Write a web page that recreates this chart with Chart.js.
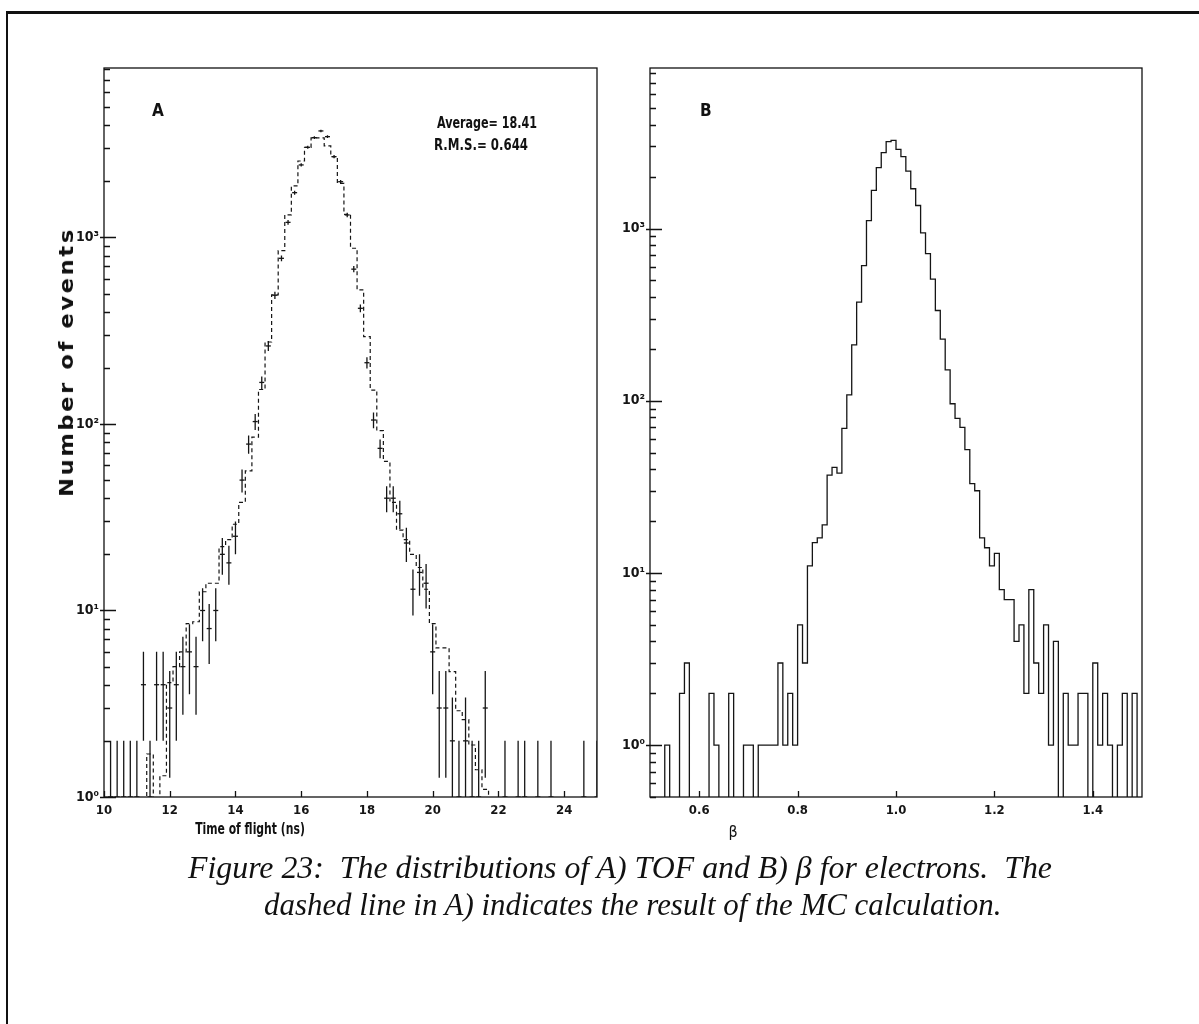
<!DOCTYPE html>
<html>
<head>
<meta charset="utf-8">
<script src="https://cdn.jsdelivr.net/npm/chart.js@4.4.0/dist/chart.umd.min.js"></script>
<style>
    html, body { margin: 0; padding: 0; background: #fff; }
    body { width: 1199px; height: 1024px; position: relative; overflow: hidden; }
    .frame { position: absolute; left: 6px; top: 11px; width: 1210px; height: 1030px;
             border-top: 3px solid #111; border-left: 2px solid #111; }
    canvas { position: absolute; top: 0; }
    #tofChart { left: 0; }
    #betaChart { left: 600px; }
    .lbl { position: absolute; color: #111; white-space: pre; font-weight: bold;
           font-family: 'Liberation Sans Narrow', 'DejaVu Sans Condensed', 'DejaVu Sans', sans-serif; }
    .fit { transform-origin: 0 50%; }
    .mid { transform-origin: 50% 50%; }
    .caption { position: absolute; color: #111; white-space: pre; font-style: italic; font-size: 31px;
               font-family: 'Liberation Serif', 'DejaVu Serif', serif; transform-origin: 0 50%; }
</style>
</head>
<body>
<div class="frame"></div>
<canvas id="tofChart" width="620" height="860"></canvas>
<canvas id="betaChart" width="599" height="860"></canvas>

<div class="lbl" style="left:152px; top:100px; font-size:17px;">A</div>
<div class="lbl fit" data-fit="100" style="left:437px; top:113px; font-size:16px;">Average= 18.41</div>
<div class="lbl fit" data-fit="94" style="left:434px; top:135px; font-size:16px;">R.M.S.= 0.644</div>
<div class="lbl" style="left:700px; top:100px; font-size:17px;">B</div>
<div class="lbl mid" data-fit="269" data-rot="1" style="left:66px; top:362px; font-size:19px; letter-spacing:2px;">Number of events</div>
<div class="lbl mid" data-fit="110" style="left:250px; top:829px; font-size:15px;">Time of flight (ns)</div>
<div class="lbl mid" style="left:733px; top:831px; font-size:16px; font-weight:normal; transform: translate(-50%, -50%);">β</div>

<div class="caption" data-fit="864" style="left:188px; top:850px;">Figure 23:  The distributions of A) TOF and B) β for electrons.  The</div>
<div class="caption" data-fit="738" style="left:264px; top:887px;">dashed line in A) indicates the result of the MC calculation.</div>

<script>
// Colours / fonts
const colors = {
    ink: '#151515',
    frame: '#111111'
};
const tickFont = {
    family: "'Liberation Sans Narrow', 'DejaVu Sans Condensed', 'DejaVu Sans', sans-serif",
    size: 13,
    weight: 'bold'
};

// Panel A : time of flight, bins of 0.2 ns centred on 10.0, 10.2 ... 25.0
const tofFirstCentre = 10.0;
const tofBinWidth = 0.2;
const tofCounts = [
    0, 1, 1, 1, 1, 1, 4, 1, 4, 4,
    3, 4, 5, 6, 5, 10, 8, 10, 20, 18,
    25, 50, 78, 103, 167, 262, 490, 773, 1205, 1738,
    2448, 3043, 3428, 3724, 3470, 2712, 1990, 1320, 676, 417,
    213, 105, 74, 40, 40, 33, 23, 13, 16, 14,
    6, 3, 3, 2, 1, 2, 1, 1, 3, 0,
    0, 1, 0, 1, 1, 0, 1, 0, 1, 0,
    0, 0, 0, 1, 0, 1
];
// MC calculation (dashed line), same bins
const tofMC = [
    0, 0, 0, 0, 0, 0, 0, 1.7, 0, 1.3,
    4.1, 5, 6, 8.5, 8.7, 12.6, 14, 14, 22, 24,
    29, 38, 56, 85, 153, 275, 492, 849, 1321, 1889,
    2570, 3043, 3420, 3420, 3094, 2712, 1950, 1331, 875, 523,
    294, 152, 92, 63, 38, 27, 24, 20, 17, 13,
    8.5, 6.3, 6.3, 4.7, 2.9, 2.6, 1.9, 1.4, 1.1, 0,
    0, 0, 0, 0, 0, 0, 0, 0, 0, 0,
    0, 0, 0, 0, 0, 0
];
const tofTicks = [10, 12, 14, 16, 18, 20, 22, 24];

// Panel B : beta, bins of 0.01 from 0.50 to 1.50
const betaFirstEdge = 0.5;
const betaBinWidth = 0.01;
const betaCounts = [
    0, 0, 0, 1, 0, 0, 2, 3, 0, 0,
    0, 0, 2, 1, 0, 0, 2, 0, 0, 1,
    1, 0, 1, 1, 1, 1, 3, 1, 2, 1,
    5, 3, 11, 15, 16, 19, 37, 41, 38, 69,
    108, 211, 374, 608, 1112, 1663, 2255, 2755, 3193, 3250,
    2880, 2612, 2153, 1702, 1360, 942, 714, 508, 334, 228,
    151, 96, 79, 70, 52, 33, 30, 16, 14, 11,
    13, 8, 7, 7, 4, 5, 2, 8, 3, 2,
    5, 1, 4, 0, 2, 1, 1, 2, 2, 0,
    3, 1, 2, 1, 0, 1, 2, 0, 2, 0
];
const betaTicks = [0.6, 0.8, 1.0, 1.2, 1.4];

// Log axes
const decadeValues = [1, 10, 100, 1000];
const decadeLabels = ['10⁰', '10¹', '10²', '10³'];

const FLOOR = 0.01; // empty bins drop below the axis and get clipped

/**
 * Step outline: one point per left edge, plus the closing right edge
 */
function histogramPoints(firstEdge, width, counts) {
    const pts = counts.map((v, i) => ({ x: firstEdge + i * width, y: v > 0 ? v : FLOOR }));
    pts.push({ x: firstEdge + counts.length * width, y: pts[pts.length - 1].y });
    return pts;
}

/**
 * Vertical error bars sqrt(N), separated by null gaps
 */
function errorBarPoints(firstCentre, width, counts) {
    const pts = [];
    counts.forEach((v, i) => {
        if (v <= 0) return;
        const x = firstCentre + i * width;
        const e = Math.sqrt(v);
        pts.push({ x: x, y: v - e > 0 ? v - e : FLOOR }, { x: x, y: v + e }, { x: x, y: null });
    });
    return pts;
}

function markerPoints(firstCentre, width, counts) {
    return counts
        .map((v, i) => ({ x: firstCentre + i * width, y: v }))
        .filter(p => p.y > 0);
}

function logTickValues(min, max) {
    const vals = [];
    [0.1, 1, 10, 100, 1000].forEach(d => {
        for (let m = 1; m <= 9; m++) {
            const v = +(m * d).toPrecision(6);
            if (v >= min && v <= max) vals.push(v);
        }
    });
    return vals;
}

// Frame + inward tick marks, HIGZ style
const inwardTicks = {
    id: 'inwardTicks',
    afterDraw(chart) {
        const { ctx, chartArea: a, scales } = chart;
        ctx.save();
        ctx.strokeStyle = colors.frame;
        ctx.lineWidth = 1.3;
        ctx.strokeRect(a.left, a.top, a.right - a.left, a.bottom - a.top);
        ctx.beginPath();
        scales.y.ticks.forEach(t => {
            const py = Math.round(scales.y.getPixelForValue(t.value)) + 0.5;
            const major = decadeValues.includes(t.value);
            ctx.moveTo(a.left - (major ? 4 : 0), py);
            ctx.lineTo(a.left + (major ? 12 : 6), py);
        });
        scales.x.ticks.forEach(t => {
            const px = Math.round(scales.x.getPixelForValue(t.value)) + 0.5;
            ctx.moveTo(px, a.bottom);
            ctx.lineTo(px, a.bottom - 6);
        });
        ctx.stroke();
        ctx.restore();
    }
};

function baseOptions(cfg) {
    return {
        responsive: false,
        devicePixelRatio: 1,
        animation: false,
        events: [],
        layout: { padding: cfg.padding },
        plugins: { legend: { display: false }, tooltip: { enabled: false } },
        scales: {
            x: {
                type: 'linear',
                min: cfg.xMin,
                max: cfg.xMax,
                grid: { display: false, drawTicks: false },
                border: { display: false },
                afterBuildTicks: axis => { axis.ticks = cfg.xTicks.map(v => ({ value: v })); },
                afterFit: axis => { axis.height = 40; },
                ticks: {
                    autoSkip: false,
                    maxRotation: 0,
                    padding: 6,
                    color: colors.ink,
                    font: tickFont,
                    callback: cfg.xLabel
                }
            },
            y: {
                type: 'logarithmic',
                min: cfg.yMin,
                max: cfg.yMax,
                grid: { display: false, drawTicks: false },
                border: { display: false },
                afterBuildTicks: axis => {
                    axis.ticks = logTickValues(cfg.yMin, cfg.yMax).map(v => ({ value: v }));
                },
                afterFit: axis => { axis.width = cfg.yWidth; },
                ticks: {
                    autoSkip: false,
                    padding: 5,
                    color: colors.ink,
                    font: { family: tickFont.family, size: 14, weight: 'bold' },
                    callback: function(value) {
                        const k = decadeValues.indexOf(value);
                        return k >= 0 ? decadeLabels[k] : '';
                    }
                }
            }
        }
    };
}

/**
 * Panel A : TOF data (error bars) + MC (dashed)
 */
function initTofChart() {
    const ctx = document.getElementById('tofChart');
    new Chart(ctx, {
        type: 'line',
        data: {
            datasets: [
                {
                    label: 'MC',
                    data: histogramPoints(tofFirstCentre - tofBinWidth / 2, tofBinWidth, tofMC),
                    borderColor: colors.ink,
                    borderWidth: 1.2,
                    borderDash: [4, 3],
                    stepped: 'before',
                    pointRadius: 0,
                    tension: 0
                },
                {
                    label: 'errors',
                    data: errorBarPoints(tofFirstCentre, tofBinWidth, tofCounts),
                    borderColor: colors.ink,
                    borderWidth: 1.3,
                    pointRadius: 0,
                    spanGaps: false
                },
                {
                    label: 'data',
                    type: 'scatter',
                    data: markerPoints(tofFirstCentre, tofBinWidth, tofCounts),
                    pointStyle: 'line',
                    pointRadius: 2.5,
                    borderColor: colors.ink,
                    borderWidth: 1.3,
                    showLine: false
                }
            ]
        },
        options: baseOptions({
            padding: { left: 0, top: 68, right: 23, bottom: 23 },
            xMin: 10, xMax: 25, xTicks: tofTicks,
            xLabel: v => String(v),
            yMin: 1, yMax: 8100, yWidth: 104
        }),
        plugins: [inwardTicks]
    });
}

/**
 * Panel B : beta histogram
 */
function initBetaChart() {
    const ctx = document.getElementById('betaChart');
    new Chart(ctx, {
        type: 'line',
        data: {
            datasets: [{
                label: 'beta',
                data: histogramPoints(betaFirstEdge, betaBinWidth, betaCounts),
                borderColor: colors.ink,
                borderWidth: 1.3,
                stepped: 'before',
                pointRadius: 0,
                tension: 0
            }]
        },
        options: baseOptions({
            padding: { left: 0, top: 68, right: 57, bottom: 23 },
            xMin: 0.5, xMax: 1.5, xTicks: betaTicks,
            xLabel: v => v.toFixed(1),
            yMin: 0.5, yMax: 8550, yWidth: 50
        }),
        plugins: [inwardTicks]
    });
}

// Stretch/squeeze labels to the widths measured on the original figure
function fitLabels() {
    document.querySelectorAll('[data-fit]').forEach(el => {
        const k = (+el.dataset.fit / el.offsetWidth).toFixed(3);
        if (el.classList.contains('mid')) {
            const rot = el.dataset.rot ? ' rotate(-90deg)' : '';
            el.style.transform = `translate(-50%, -50%)${rot} scaleX(${k})`;
        } else {
            el.style.transform = `scaleX(${k})`;
        }
    });
}

document.addEventListener('DOMContentLoaded', function() {
    initTofChart();
    initBetaChart();
    fitLabels();
});
</script>
</body>
</html>
